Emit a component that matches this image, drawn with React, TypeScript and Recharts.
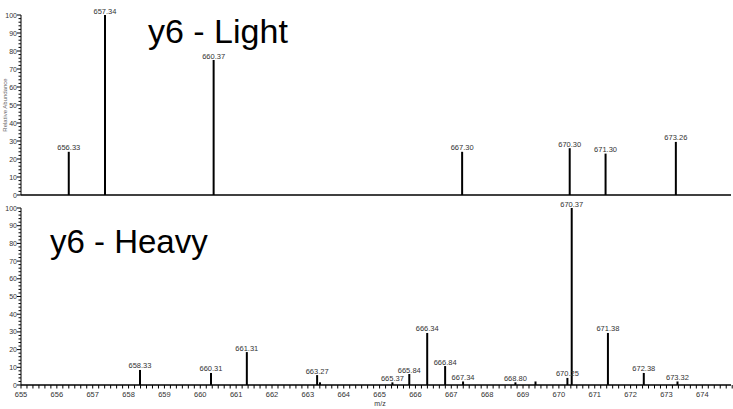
import React from "react";
import { BarChart, Bar, XAxis, YAxis, LabelList } from "recharts";

// y6 - Light
const lightMz = [656.33, 657.34, 660.37, 667.3, 670.3, 671.3, 673.26];
const lightInt = [24, 100, 75, 24, 26, 23, 29.5];
const lightLabels = ["656.33", "657.34", "660.37", "667.30", "670.30", "671.30", "673.26"];

// y6 - Heavy
const heavyMz = [658.33, 660.31, 661.31, 663.27, 663.35, 665.37, 665.84, 666.34, 666.84, 667.34, 668.8, 669.36, 670.25, 670.37, 671.38, 672.38, 673.32];
const heavyInt = [8.5, 6.8, 18.6, 5.6, 1.5, 1.5, 6.2, 29.4, 10.7, 2, 1.5, 2, 4, 100, 29.4, 6.8, 2];
const heavyLabels = ["658.33", "660.31", "661.31", "663.27", "", "665.37", "665.84", "666.34", "666.84", "667.34", "668.80", "", "670.25", "670.37", "671.38", "672.38", "673.32"];

const xMajor = [655, 656, 657, 658, 659, 660, 661, 662, 663, 664, 665, 666, 667, 668, 669, 670, 671, 672, 673, 674];
const yMajor = [0, 10, 20, 30, 40, 50, 60, 70, 80, 90, 100];

const X_DOMAIN: [number, number] = [655, 674.8];
const FONT = "'Liberation Sans', Arial, sans-serif";

const lightData = lightMz.map((mz, i) => ({ mz, intensity: lightInt[i], label: lightLabels[i] }));
const heavyData = heavyMz.map((mz, i) => ({ mz, intensity: heavyInt[i], label: heavyLabels[i] }));

// minor ticks: 1/6 on x, 2 on y
const xTicks: number[] = [];
xMajor.forEach((m) => {
  for (let k = 0; k < 6; k++) xTicks.push(+(m + k / 6).toFixed(4));
});
const yTicks: number[] = [];
for (let v = 0; v <= 100; v += 2) yTicks.push(v);

const YTick = (props: any) => {
  const { x, y, payload } = props;
  const major = yMajor.includes(payload.value);
  return (
    <g>
      <line x1={x - (major ? 4 : 2.5)} x2={x} y1={y} y2={y} stroke="#000" strokeWidth={1} />
      {major && (
        <text x={x - 4} y={y} dy={2.5} textAnchor="end" fontSize={7} fill="#333" fontFamily={FONT}>
          {payload.value}
        </text>
      )}
    </g>
  );
};

const XTick = (props: any) => {
  const { x, y, payload } = props;
  const major = Math.abs(payload.value - Math.round(payload.value)) < 1e-3;
  return (
    <g>
      <line x1={x} x2={x} y1={y} y2={y + 3.5} stroke="#000" strokeWidth={1} />
      {major && (
        <text x={x} y={y + 12} textAnchor="middle" fontSize={7.5} fill="#333" fontFamily={FONT}>
          {Math.round(payload.value)}
        </text>
      )}
    </g>
  );
};

function Panel({ data, height, top, bottom, showX }: any) {
  return (
    <BarChart width={733} height={height} data={data} margin={{ top, right: 2, left: 0, bottom }}>
      <XAxis
        type="number"
        dataKey="mz"
        domain={X_DOMAIN}
        allowDataOverflow
        ticks={showX ? xTicks : [655]}
        interval={0}
        tick={showX ? <XTick /> : false}
        tickLine={false}
        tickSize={0}
        tickMargin={0}
        height={showX ? 24 : 2}
        axisLine={{ stroke: "#000", strokeWidth: 1.5 }}
      />
      <YAxis
        type="number"
        domain={[0, 100]}
        ticks={yTicks}
        interval={0}
        width={21}
        tick={<YTick />}
        tickLine={false}
        tickSize={0}
        tickMargin={0}
        axisLine={{ stroke: "#000", strokeWidth: 1 }}
      />
      <Bar dataKey="intensity" fill="#000" barSize={2} isAnimationActive={false}>
        <LabelList dataKey="label" position="top" offset={1.5} fontSize={7.5} fill="#333" fontFamily={FONT} />
      </Bar>
    </BarChart>
  );
}

export default function App() {
  return (
    <div style={{ position: "absolute", left: 0, top: 0, width: 733, height: 409, background: "#fff", fontFamily: FONT }}>
      <div style={{ position: "absolute", left: 0, top: 0 }}>
        <Panel data={lightData} height={200} top={15} bottom={3} showX={false} />
      </div>
      <div style={{ position: "absolute", left: 0, top: 198 }}>
        <Panel data={heavyData} height={211} top={10} bottom={0} showX />
      </div>
      <svg width={733} height={409} style={{ position: "absolute", left: 0, top: 0, pointerEvents: "none" }}>
        <text x={148} y={43} fontSize={34} fill="#000" fontFamily={FONT}>y6 - Light</text>
        <text x={50} y={253} fontSize={33} fill="#000" fontFamily={FONT}>y6 - Heavy</text>
        <text x={380} y={406} fontSize={7} fill="#333" textAnchor="middle" fontFamily={FONT}>m/z</text>
        <text x={7} y={105} fontSize={6} fill="#666" textAnchor="middle" fontFamily={FONT} transform="rotate(-90 7 105)">
          Relative Abundance
        </text>
      </svg>
    </div>
  );
}
